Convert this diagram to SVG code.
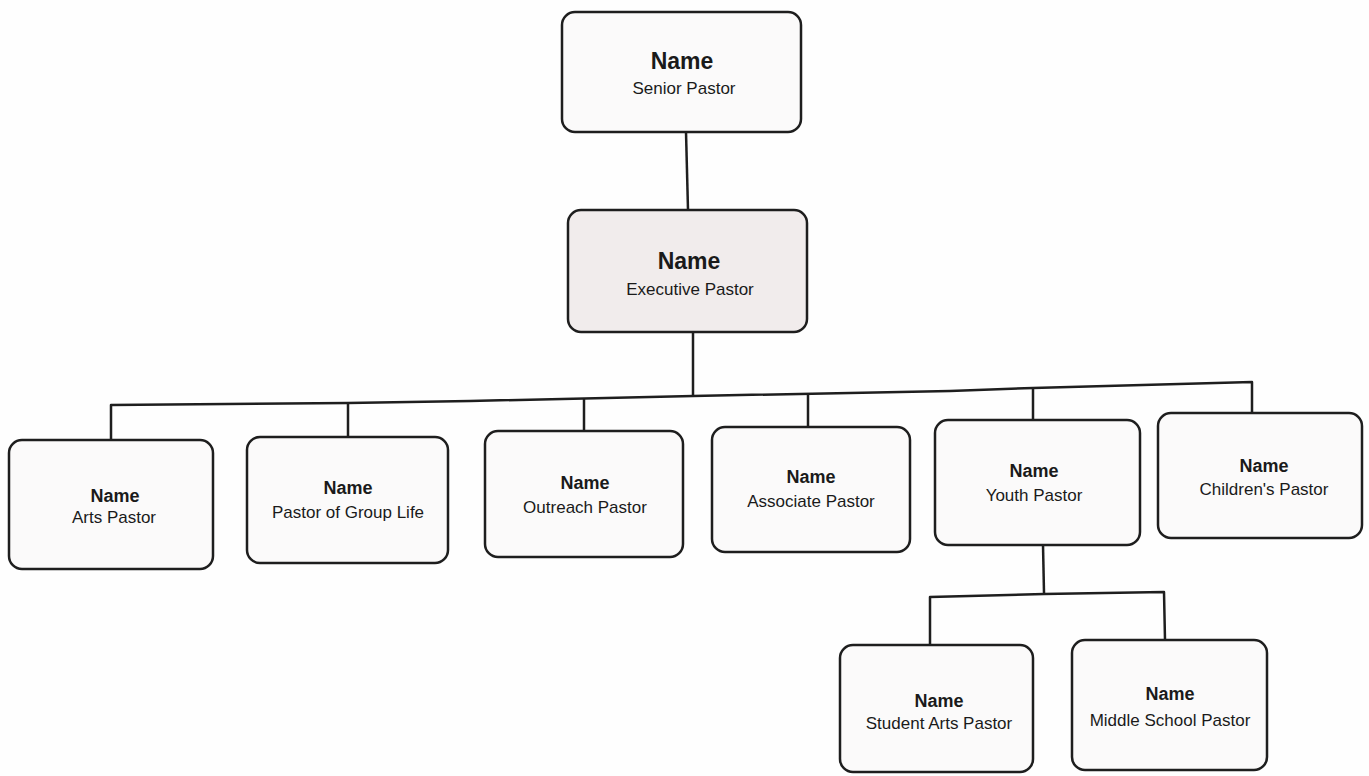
<svg xmlns="http://www.w3.org/2000/svg" width="1369" height="776" viewBox="0 0 1369 776">
<style>
.box{fill:#fbfafa;stroke:#1e1e1e;stroke-width:2.5}
.exec{fill:#f1ecec}
.c{fill:none;stroke:#1e1e1e;stroke-width:2.5;stroke-linejoin:round}
.n{font-family:"Liberation Sans",Arial,sans-serif;font-weight:bold;fill:#1a1a1a;text-anchor:middle}
.t{font-family:"Liberation Sans",Arial,sans-serif;fill:#1a1a1a;text-anchor:middle;font-size:17px}
.big{font-size:23px}
.sm{font-size:18px}
</style>
<rect width="1369" height="776" fill="#fefefe"/>
<g id="connectors">
<path class="c" d="M686,132 L688,210"/>
<path class="c" d="M693,332 L693,396"/>
<polyline class="c" points="111,440 111,405 348,403 470,401 693,396 950,391 1033,388 1252,382 1252,413"/>
<path class="c" d="M348,403 L348,437"/>
<path class="c" d="M584,398 L584,431"/>
<path class="c" d="M808,394 L808,427"/>
<path class="c" d="M1033,388 L1033,420"/>
<path class="c" d="M1043,545 L1044,593"/>
<polyline class="c" points="930,645 930,597 1044,594 1164,592 1165,640"/>
</g>
<g id="senior">
<rect class="box" x="562" y="12" width="239" height="120" rx="13"/>
<text class="n big" x="682" y="69">Name</text>
<text class="t" x="684" y="94">Senior Pastor</text>
</g>
<g id="executive">
<rect class="box exec" x="568" y="210" width="239" height="122" rx="13"/>
<text class="n big" x="689" y="269">Name</text>
<text class="t" x="690" y="295">Executive Pastor</text>
</g>
<g id="arts">
<rect class="box" x="9" y="440" width="204" height="129" rx="13"/>
<text class="n sm" x="115" y="502">Name</text>
<text class="t" x="114" y="523">Arts Pastor</text>
</g>
<g id="grouplife">
<rect class="box" x="247" y="437" width="201" height="126" rx="13"/>
<text class="n sm" x="348" y="494">Name</text>
<text class="t" x="348" y="518">Pastor of Group Life</text>
</g>
<g id="outreach">
<rect class="box" x="485" y="431" width="198" height="126" rx="13"/>
<text class="n sm" x="585" y="489">Name</text>
<text class="t" x="585" y="513">Outreach Pastor</text>
</g>
<g id="associate">
<rect class="box" x="712" y="427" width="198" height="125" rx="13"/>
<text class="n sm" x="811" y="483">Name</text>
<text class="t" x="811" y="507">Associate Pastor</text>
</g>
<g id="youth">
<rect class="box" x="935" y="420" width="205" height="125" rx="13"/>
<text class="n sm" x="1034" y="477">Name</text>
<text class="t" x="1034" y="501">Youth Pastor</text>
</g>
<g id="children">
<rect class="box" x="1158" y="413" width="204" height="125" rx="13"/>
<text class="n sm" x="1264" y="472">Name</text>
<text class="t" x="1264" y="495">Children's Pastor</text>
</g>
<g id="studentarts">
<rect class="box" x="840" y="645" width="193" height="127" rx="13"/>
<text class="n sm" x="939" y="707">Name</text>
<text class="t" x="939" y="729">Student Arts Pastor</text>
</g>
<g id="middleschool">
<rect class="box" x="1072" y="640" width="195" height="130" rx="13"/>
<text class="n sm" x="1170" y="700">Name</text>
<text class="t" x="1170" y="726">Middle School Pastor</text>
</g>
</svg>
